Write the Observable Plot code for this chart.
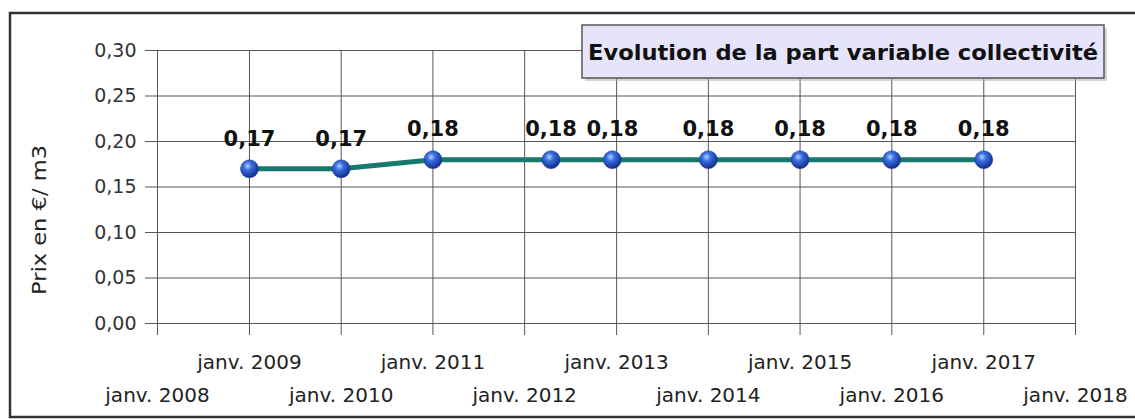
<!DOCTYPE html>
<html>
<head>
<meta charset="utf-8">
<script src="https://cdn.jsdelivr.net/npm/d3@7"></script>
<script src="https://cdn.jsdelivr.net/npm/@observablehq/plot@0.6"></script>
<style>
  html, body { margin: 0; padding: 0; background: #fff; }
  #chart svg { display: block; }
</style>
</head>
<body>
<div id="chart"></div>
<script>
// ---- Data ----
const dates = ["2009-01-01", "2010-01-01", "2011-01-01", "2012-04-15", "2012-12-15",
               "2014-01-01", "2015-01-01", "2016-01-01", "2017-01-01"];
const prices = [0.17, 0.17, 0.18, 0.18, 0.18, 0.18, 0.18, 0.18, 0.18];
const yTicks = [0, 0.05, 0.10, 0.15, 0.20, 0.25, 0.30];
const tickYears = [2008, 2009, 2010, 2011, 2012, 2013, 2014, 2015, 2016, 2017, 2018];
const title = "Evolution de la part variable collectivité";
const yLabel = "Prix en €/ m3";

const data = dates.map((d, i) => ({date: new Date(d), price: prices[i]}));
const xTicks = tickYears.map(y => new Date(Date.UTC(y, 0, 1)));
const oddTicks = xTicks.filter(d => d.getUTCFullYear() % 2 === 1);
const evenTicks = xTicks.filter(d => d.getUTCFullYear() % 2 === 0);
const fmtX = d => `janv. ${d.getUTCFullYear()}`;
const fmtY = d => d.toFixed(2).replace(".", ",");

const font = "DejaVu Sans, sans-serif";

const plot = Plot.plot({
  width: 1135,
  height: 419,
  marginLeft: 157,
  marginRight: 60,
  marginTop: 50,
  marginBottom: 96,
  style: {fontFamily: font, color: "#222", background: "transparent", overflow: "visible"},
  x: {type: "utc", domain: [xTicks[0], xTicks[xTicks.length - 1]]},
  y: {domain: [0, 0.30]},
  marks: [
    Plot.gridY(yTicks, {stroke: "#555", strokeOpacity: 1, strokeWidth: 1}),
    Plot.gridX(xTicks, {stroke: "#555", strokeOpacity: 1, strokeWidth: 1}),
    Plot.axisY(yTicks, {tickFormat: fmtY, tickSize: 12, tickPadding: 9, fontSize: 19, label: null, stroke: "#555", fill: "#333"}),
    Plot.axisX(oddTicks, {tickFormat: fmtX, tickSize: 12, tickPadding: 19, fontSize: 20, label: null, stroke: "#555", fill: "#222"}),
    Plot.axisX(evenTicks, {tickFormat: fmtX, tickSize: 12, tickPadding: 52, fontSize: 20, label: null, stroke: "#555", fill: "#222"}),
    Plot.line(data, {x: "date", y: "price", stroke: "#17796d", strokeWidth: 5}),
    Plot.dot(data, {x: "date", y: "price", r: 9, fill: "url(#sphere)", stroke: "#1a3a9a", strokeWidth: 0.5}),
    Plot.text(data, {x: "date", y: "price", text: d => fmtY(d.price), dy: -30, fontSize: 21, fontWeight: "bold", fill: "#111"})
  ]
});

document.getElementById("chart").appendChild(plot);

const svg = d3.select(plot);
const defs = svg.insert("defs", ":first-child");
const g = defs.append("radialGradient").attr("id", "sphere")
  .attr("cx", "40%").attr("cy", "35%").attr("r", "65%");
g.append("stop").attr("offset", "0%").attr("stop-color", "#b8d0ff");
g.append("stop").attr("offset", "35%").attr("stop-color", "#3a6ee0");
g.append("stop").attr("offset", "100%").attr("stop-color", "#102e8a");

// outer border
svg.append("rect")
  .attr("x", 10).attr("y", 13).attr("width", 1140).attr("height", 404)
  .attr("fill", "none").attr("stroke", "#333").attr("stroke-width", 2.5);

// y label
svg.append("text")
  .attr("transform", "translate(46,220) rotate(-90)")
  .attr("text-anchor", "middle")
  .attr("font-family", font).attr("font-size", 20).attr("fill", "#222")
  .attr("textLength", 150).attr("lengthAdjust", "spacingAndGlyphs")
  .text(yLabel);

// title box
svg.append("rect")
  .attr("x", 585).attr("y", 28).attr("width", 522).attr("height", 53)
  .attr("fill", "#aaa").attr("opacity", 0.5);
svg.append("rect")
  .attr("x", 582).attr("y", 25).attr("width", 522).attr("height", 53)
  .attr("fill", "#e6e4fa").attr("stroke", "#555").attr("stroke-width", 1.5);
svg.append("text")
  .attr("x", 843).attr("y", 52).attr("dy", "0.35em")
  .attr("text-anchor", "middle")
  .attr("font-family", font).attr("font-size", 22).attr("font-weight", "bold").attr("fill", "#111")
  .attr("textLength", 510).attr("lengthAdjust", "spacingAndGlyphs")
  .text(title);
</script>
</body>
</html>
